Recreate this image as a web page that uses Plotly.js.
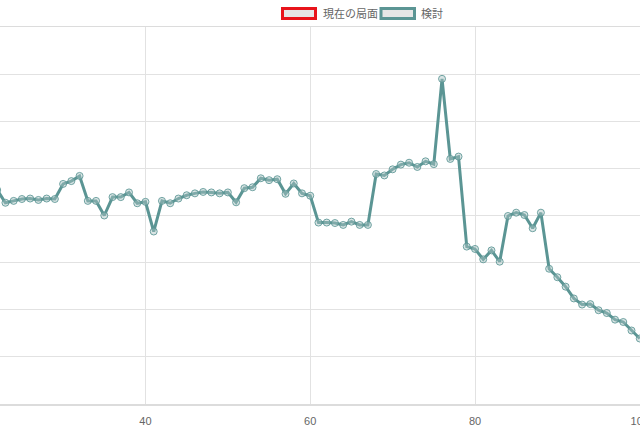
<!DOCTYPE html>
<html>
<head>
<meta charset="utf-8">
<script src="https://cdn.plot.ly/plotly-3.0.1.min.js"></script>
<style>html,body{margin:0;padding:0;background:#fff;}#chart{width:640px;height:427px;}</style>
</head>
<body>
<div id="chart"></div>
<script>
// move numbers (x axis)
const moves = [22,23,24,25,26,27,28,29,30,31,32,33,34,35,36,37,38,39,40,41,42,43,44,45,46,47,48,49,50,51,52,53,54,55,56,57,58,59,60,61,62,63,64,65,66,67,68,69,70,71,72,73,74,75,76,77,78,79,80,81,82,83,84,85,86,87,88,89,90,91,92,93,94,95,96,97,98,99,100];
// evaluation values for the "検討" series (y axis labels are cropped in the reference; relative scale)
const kentouValues = [454,427,431,435,436,433,436,435,467,473,484,431,431,400,439,439,449,426,429,366,431,426,436,443,447,450,449,447,449,428,458,460,479,475,477,446,468,447,442,385,385,384,380,387,380,380,488,485,498,508,512,503,515,509,690,520,525,334,329,307,326,302,399,406,401,373,406,287,269,249,224,211,212,199,193,179,174,156,139];
// "現在の局面" series: no visible points in the shown range
const currentMoves = [];
const currentValues = [];
const seriesNames = ['現在の局面', '検討'];
const xTicks = [20,40,60,80,100];

const teal = '#5b9594';
const red = '#e8141b';
const fontFam = '"Liberation Sans", Arial, "Noto Sans CJK JP", sans-serif';

const traces = [
  {x: currentMoves, y: currentValues, name: seriesNames[0], type: 'scatter', mode: 'lines+markers',
   line: {color: red, width: 3}, showlegend: false},
  {x: moves, y: kentouValues, name: seriesNames[1], type: 'scatter', mode: 'lines+markers',
   line: {color: teal, width: 3},
   marker: {size: 7, color: 'rgba(170,195,195,0.45)', line: {color: 'rgba(91,149,148,0.85)', width: 1}},
   showlegend: false, cliponaxis: true}
];

const plotTop = 26.5, plotBottom = 404.5;
const ph = plotBottom - plotTop;
function py(p){ return 1 + (plotTop - p)/ph; }
function px(p){ return p/640; }

const layout = {
  width: 640, height: 427,
  margin: {l: 0, r: 0, t: plotTop, b: 427 - plotBottom, pad: 0},
  paper_bgcolor: '#fff', plot_bgcolor: '#fff',
  font: {family: fontFam, size: 11, color: '#666'},
  showlegend: false,
  xaxis: {range: [22.34, 100.03], tickvals: xTicks, ticktext: xTicks.map(String),
          ticklabeloverflow: 'allow',
          showgrid: true, gridcolor: '#e2e2e2', gridwidth: 1, zeroline: false,
          showline: true, linecolor: '#dcdcdc', linewidth: 1.5, mirror: true,
          ticks: 'outside', ticklen: 6, tickcolor: 'rgba(0,0,0,0)',
          tickfont: {family: fontFam, size: 11, color: '#666'}},
  yaxis: {range: [0, 800], dtick: 100, showticklabels: false, showgrid: true,
          gridcolor: '#e2e2e2', gridwidth: 1, zeroline: false, showline: false, ticks: ''},
  shapes: [
    {type: 'rect', xref: 'paper', yref: 'paper', x0: px(282.5), x1: px(315.5), y0: py(8), y1: py(18),
     line: {color: red, width: 3}, fillcolor: '#e6e6e6'},
    {type: 'rect', xref: 'paper', yref: 'paper', x0: px(381), x1: px(414.5), y0: py(8), y1: py(18),
     line: {color: teal, width: 3}, fillcolor: '#e6e6e6'}
  ],
  annotations: [
    {xref: 'paper', yref: 'paper', x: px(321), y: py(13), xanchor: 'left', yanchor: 'middle',
     text: seriesNames[0], showarrow: false, font: {family: fontFam, size: 11, color: '#666'}},
    {xref: 'paper', yref: 'paper', x: px(418.5), y: py(13), xanchor: 'left', yanchor: 'middle',
     text: seriesNames[1], showarrow: false, font: {family: fontFam, size: 11, color: '#666'}}
  ]
};

Plotly.newPlot('chart', traces, layout, {displayModeBar: false, staticPlot: true});
</script>
</body>
</html>
